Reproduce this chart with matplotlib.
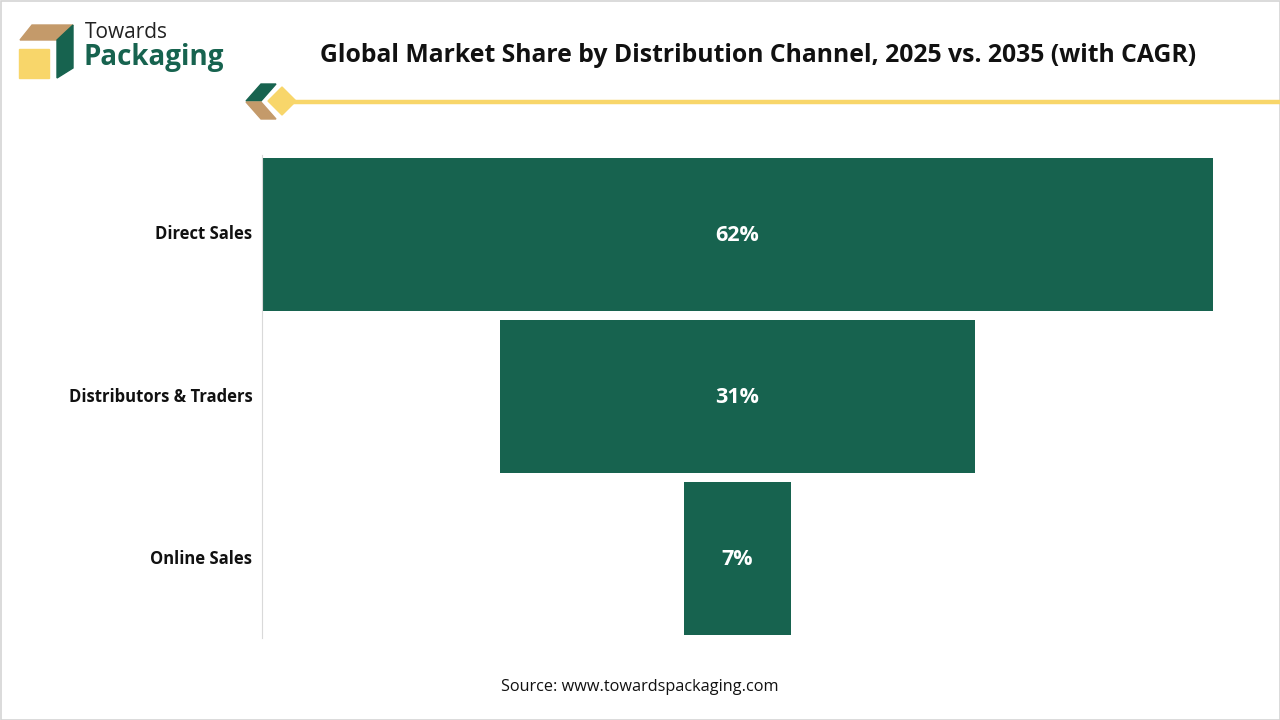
"""
Funnel chart: global market share by distribution channel
"""

import matplotlib

matplotlib.use("Agg")
import matplotlib.pyplot as plt
from matplotlib.patches import Polygon, Rectangle

channels = ["Direct Sales", "Distributors & Traders", "Online Sales"]
shares = [62, 31, 7]
share_labels = ["62%", "31%", "7%"]

GREEN = "#17634F"
YELLOW = "#F8D66A"
TAN = "#C49A6A"

plt.rcParams["font.family"] = ["Open Sans", "DejaVu Sans"]

fig = plt.figure(figsize=(12.8, 7.2), dpi=100)

# overlay in pixel coordinates for the header decorations
deco = fig.add_axes([0, 0, 1, 1])
deco.set_xlim(0, 1280)
deco.set_ylim(720, 0)
deco.axis("off")
deco.add_patch(Rectangle((0.5, 0.5), 1279, 719, fill=False, ec="#D4D4D4", lw=1.2))

# logo box
deco.add_patch(Polygon([(32, 25), (73, 25), (62, 40), (20, 40)], color=TAN))
deco.add_patch(Rectangle((19, 49), 30, 29, color=YELLOW))
deco.add_patch(Polygon([(57, 40), (73, 25), (73, 68), (57, 78)], color=GREEN))
deco.text(85, 32, "Towards", fontsize=15, color="#222222", va="center", ha="left")
deco.text(84, 58, "Packaging", fontsize=20, fontweight="bold", color=GREEN,
          va="center", ha="left")

# divider with chevron and diamond
deco.plot([290, 1280], [101.5, 101.5], color=YELLOW, lw=3.2, solid_capstyle="butt")
deco.add_patch(Polygon([(261, 84), (276, 84), (261, 101), (246, 101)], color=GREEN))
deco.add_patch(Polygon([(246, 102), (261, 102), (276, 119), (261, 119)], color=TAN))
deco.add_patch(Polygon([(282, 87), (296, 101), (282, 115), (268, 101)], color=YELLOW))

fig.text(758 / 1280, 1 - 56 / 720,
         "Global Market Share by Distribution Channel, 2025 vs. 2035 (with CAGR)",
         fontsize=17.8, fontweight="bold", color="#111111", ha="center", va="center")

ax = fig.add_axes([262 / 1280, 1 - 638 / 720, 951 / 1280, 483 / 720])
ypos = list(range(len(channels)))
lefts = [-s / 2 for s in shares]
ax.barh(ypos, shares, left=lefts, height=0.94, color=GREEN)
for y, lab in zip(ypos, share_labels):
    ax.text(0, y + 0.005, lab, color="white", fontsize=15.5, fontweight="bold",
            ha="center", va="center")

ax.set_xlim(-max(shares) / 2, max(shares) / 2)
ax.set_ylim(2.49, -0.49)
ax.set_yticks([y - 0.012 for y in ypos])
ax.set_yticklabels(channels, fontsize=12, fontweight="bold", color="#111111")
ax.tick_params(axis="y", length=0, pad=7)
ax.set_xticks([])
for side in ("top", "right", "bottom"):
    ax.spines[side].set_visible(False)
ax.spines["left"].set_color("#D9D9D9")
ax.patch.set_alpha(0)

fig.text(0.5, 1 - 687 / 720, "Source: www.towardspackaging.com",
         fontsize=11.7, color="#111111", ha="center", va="center")

fig.savefig("out.png", dpi=100)
